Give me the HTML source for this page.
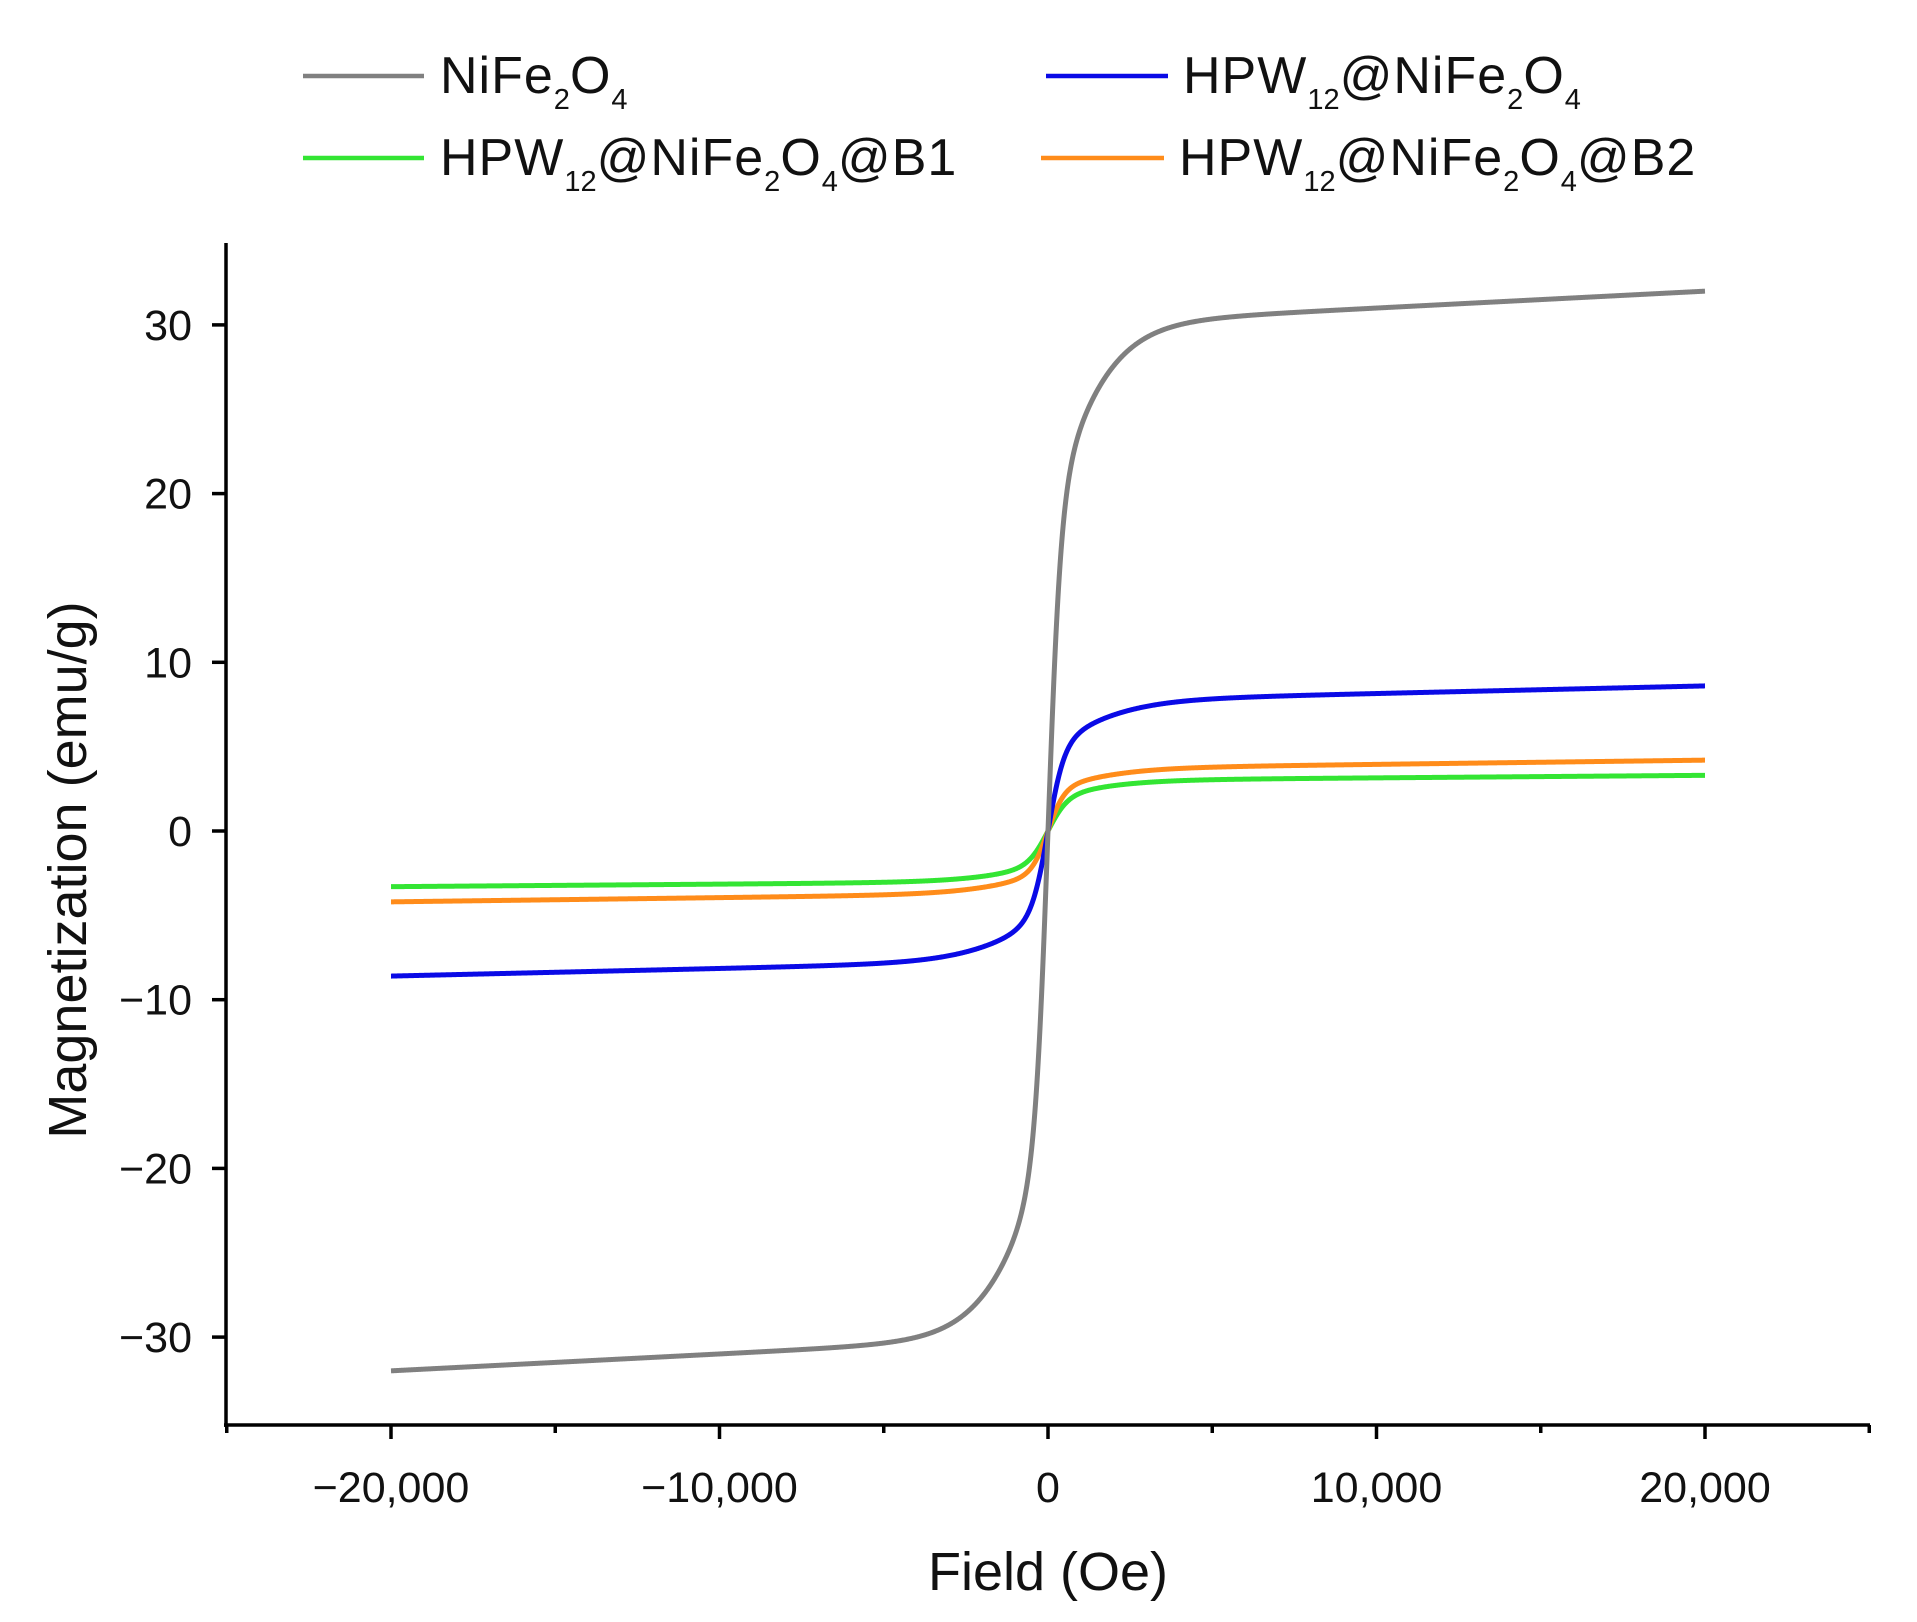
<!DOCTYPE html>
<html><head><meta charset="utf-8"><style>
html,body{margin:0;padding:0;background:#fff;}
body{width:1917px;height:1622px;position:relative;overflow:hidden;font-family:"Liberation Sans",Arial,sans-serif;}
.lg{position:absolute;font-size:52px;color:#111;white-space:nowrap;line-height:1;letter-spacing:1px;}
.lg sub{font-size:29px;vertical-align:-16px;letter-spacing:0;}
</style></head><body>
<svg width="1917" height="1622" style="position:absolute;left:0;top:0" xmlns="http://www.w3.org/2000/svg">
<g stroke-width="4.5">
<line x1="303" y1="76" x2="424" y2="76" stroke="#808080"/>
<line x1="1046" y1="76" x2="1168" y2="76" stroke="#0a0ae6"/>
<line x1="303" y1="158" x2="424" y2="158" stroke="#33e533"/>
<line x1="1041" y1="158" x2="1164" y2="158" stroke="#ff8c1a"/>
</g>
<g stroke="#000" stroke-width="3.5" fill="none">
<line x1="226" y1="243" x2="226" y2="1427"/>
<line x1="224" y1="1425" x2="1870" y2="1425"/>
<g id="yt"></g><g id="xt"></g>
</g>
<g id="curves" fill="none" stroke-width="5" stroke-linejoin="round"></g>
<g font-size="43" fill="#111" text-anchor="end" id="ylab"></g>
<g font-size="43" fill="#111" text-anchor="middle" id="xlab"></g>
<text x="1048" y="1590" font-size="54" text-anchor="middle" fill="#111">Field (Oe)</text>
<text transform="translate(86,870) rotate(-90)" font-size="54" text-anchor="middle" fill="#111">Magnetization (emu/g)</text>
</svg>
<div class="lg" style="left:440px;top:50px">NiFe<sub>2</sub>O<sub>4</sub></div>
<div class="lg" style="left:1183px;top:50px">HPW<sub>12</sub>@NiFe<sub>2</sub>O<sub>4</sub></div>
<div class="lg" style="left:440px;top:132px">HPW<sub>12</sub>@NiFe<sub>2</sub>O<sub>4</sub>@B1</div>
<div class="lg" style="left:1179px;top:132px">HPW<sub>12</sub>@NiFe<sub>2</sub>O<sub>4</sub>@B2</div>
<script>
var NS="http://www.w3.org/2000/svg";
function X(h){return 1048+h*657/20000;}
function Y(m){return 831-m*16.87;}
function el(p,t,a,txt){var e=document.createElementNS(NS,t);for(var k in a)e.setAttribute(k,a[k]);if(txt!==undefined)e.textContent=txt;document.getElementById(p).appendChild(e);}
for(var v=-30;v<=30;v+=10){var y=Y(v);el("yt","line",{x1:212,y1:y,x2:226,y2:y});el("ylab","text",{x:192,y:y+15},(v<0?"\u2212":"")+Math.abs(v));}
for(var h=-25000;h<=25000;h+=5000){var x=X(h);var major=(h%10000===0);el("xt","line",{x1:x,y1:1425,x2:x,y2:1425+(major?14:8)});
 if(major&&Math.abs(h)<=20000){var s=Math.abs(h).toLocaleString("en-US");el("xlab","text",{x:x,y:1502},(h<0?"\u2212":"")+s);}}
function th(x){return Math.tanh(x);}
var series=[
 ["#33e533",function(H){return 2.0*th(H/600)+1.0*th(H/2500)+0.3*H/20000;}],
 ["#ff8c1a",function(H){return 2.5*th(H/500)+1.2*th(H/2500)+0.5*H/20000;}],
 ["#0a0ae6",function(H){return 5.0*th(H/500)+2.7*th(H/2500)+0.9*H/20000;}],
 ["#808080",function(H){return 19*th(H/400)+11*th(H/2000)+2*H/20000;}]
];
series.forEach(function(s){var d="";for(var i=0;i<=2000;i++){var H=-20000+i*20;d+=(i?"L":"M")+X(H).toFixed(2)+" "+Y(s[1](H)).toFixed(2);}el("curves","path",{d:d,stroke:s[0]});});
</script>
</body></html>
